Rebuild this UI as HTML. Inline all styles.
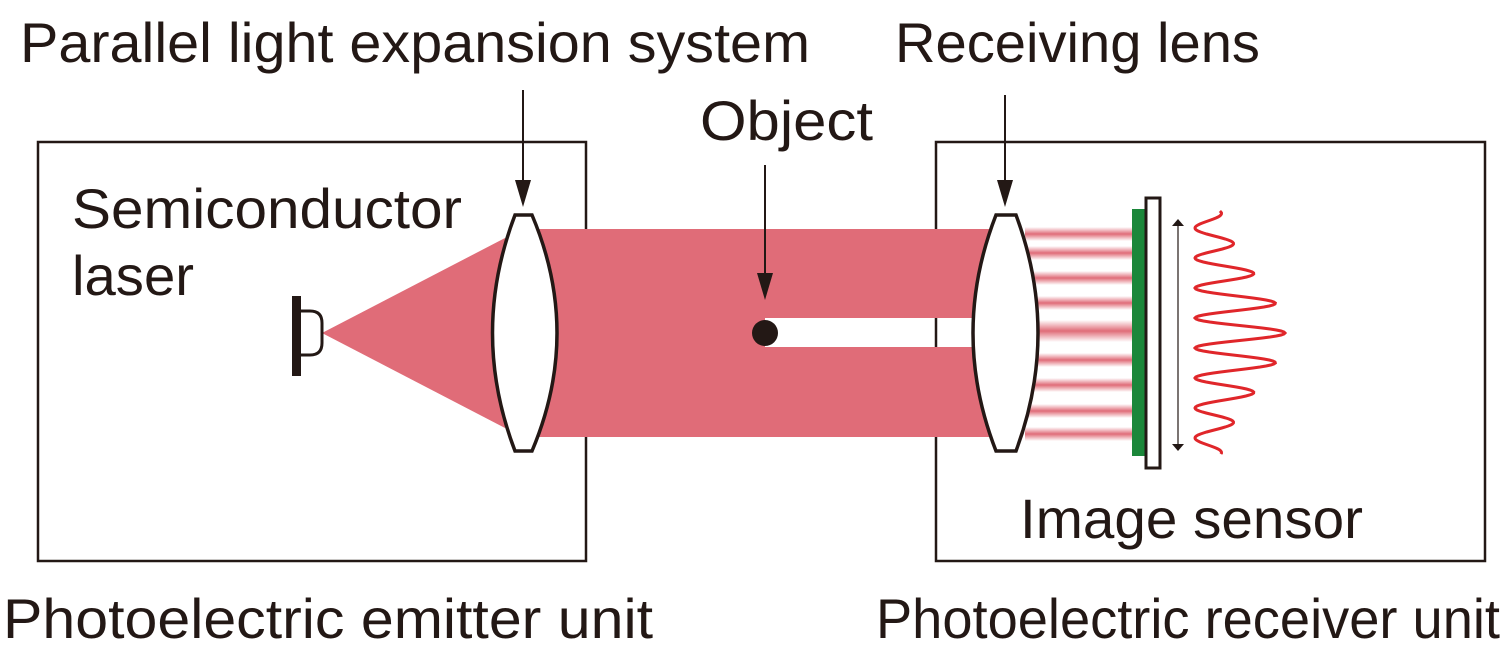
<!DOCTYPE html>
<html><head><meta charset="utf-8"><style>
html,body{margin:0;padding:0;background:#fff;}
svg{display:block;}
text{font-family:"Liberation Sans",sans-serif;fill:#231815;font-size:56px;}
</style></head><body>
<svg id="s" width="1503" height="656" viewBox="0 0 1503 656" xmlns="http://www.w3.org/2000/svg">
<defs>
<linearGradient id="st" x1="0" y1="0" x2="0" y2="1">
<stop offset="0" stop-color="#e06c78" stop-opacity="0"/>
<stop offset="0.5" stop-color="#e06c78" stop-opacity="1"/>
<stop offset="1" stop-color="#e06c78" stop-opacity="0"/>
</linearGradient>
</defs>
<rect x="38" y="142" width="548" height="419" fill="none" stroke="#231815" stroke-width="2.5"/>
<rect x="936" y="142" width="549" height="419" fill="none" stroke="#231815" stroke-width="2.5"/>
<polygon points="322,333 505,238 505,428" fill="#e06c78"/>
<rect x="525" y="229" width="465" height="89" fill="#e06c78"/>
<rect x="525" y="318" width="240" height="29" fill="#e06c78"/>
<rect x="525" y="347" width="465" height="90" fill="#e06c78"/>
<g id="stripes"></g>
<rect x="292" y="296" width="9" height="80" fill="#231815"/>
<path d="M300,311 L310,311 Q322,311 322,323 L322,343 Q322,355 310,355 L300,355" fill="none" stroke="#231815" stroke-width="3"/>
<path d="M515,215 L532,215 Q582,333 532,451 L515,451 Q470,333 515,215 Z" fill="#fff" stroke="#231815" stroke-width="3.5"/>
<path d="M996,215 L1016,215 Q1060,333 1016,451 L996,451 Q950,333 996,215 Z" fill="#fff" stroke="#231815" stroke-width="3.5"/>
<circle cx="765" cy="333" r="13" fill="#231815"/>
<g stroke="#231815" stroke-width="2">
<line x1="523" y1="90" x2="523" y2="185"/>
<line x1="765" y1="165" x2="765" y2="278"/>
<line x1="1005" y1="95" x2="1005" y2="185"/>
</g>
<g fill="#231815">
<polygon points="515,180 531,180 523,207"/>
<polygon points="757,273 773,273 765,300"/>
<polygon points="997,180 1013,180 1005,207"/>
</g>
<rect x="1132" y="209" width="13" height="247" fill="#1b873a"/>
<rect x="1146" y="198" width="14" height="270" fill="#fff" stroke="#231815" stroke-width="3"/>
<line x1="1178" y1="225" x2="1178" y2="445" stroke="#231815" stroke-width="1.2"/>
<polygon points="1172,226 1184,226 1178,219" fill="#231815"/>
<polygon points="1172,444 1184,444 1178,451" fill="#231815"/>
<path id="wave" fill="none" stroke="#e0262a" stroke-width="3"/>
<text x="20" y="62" textLength="790" lengthAdjust="spacingAndGlyphs">Parallel light expansion system</text>
<text x="895" y="62" textLength="365" lengthAdjust="spacingAndGlyphs">Receiving lens</text>
<text x="700" y="140" textLength="173" lengthAdjust="spacingAndGlyphs">Object</text>
<text x="72" y="228" textLength="390" lengthAdjust="spacingAndGlyphs">Semiconductor</text>
<text x="72" y="295" textLength="122" lengthAdjust="spacingAndGlyphs">laser</text>
<text x="1020" y="538" textLength="343" lengthAdjust="spacingAndGlyphs">Image sensor</text>
<text x="3" y="638" textLength="650" lengthAdjust="spacingAndGlyphs">Photoelectric emitter unit</text>
<text x="876" y="638" textLength="624" lengthAdjust="spacingAndGlyphs">Photoelectric receiver unit</text>
</svg>
<script>
var NS="http://www.w3.org/2000/svg";
var ys=[234,253,278,303,331,360,385,411,434];
var g=document.getElementById("stripes");
ys.forEach(function(y,i){var h=(i==4)?22:14;var r=document.createElementNS(NS,"rect");
r.setAttribute("x",1025);r.setAttribute("y",y-h/2);r.setAttribute("width",107);r.setAttribute("height",h);r.setAttribute("fill","url(#st)");g.appendChild(r);});
var d="";
for(var y=211;y<=454;y+=1){var t=y-333;var env=20+70*Math.exp(-(t*t)/(2*55*55));
var x=1195+env*(1+Math.cos(2*Math.PI*t/30))/2;d+=(y==211?"M":"L")+x.toFixed(1)+","+y;}
document.getElementById("wave").setAttribute("d",d);
</script>
</body></html>
